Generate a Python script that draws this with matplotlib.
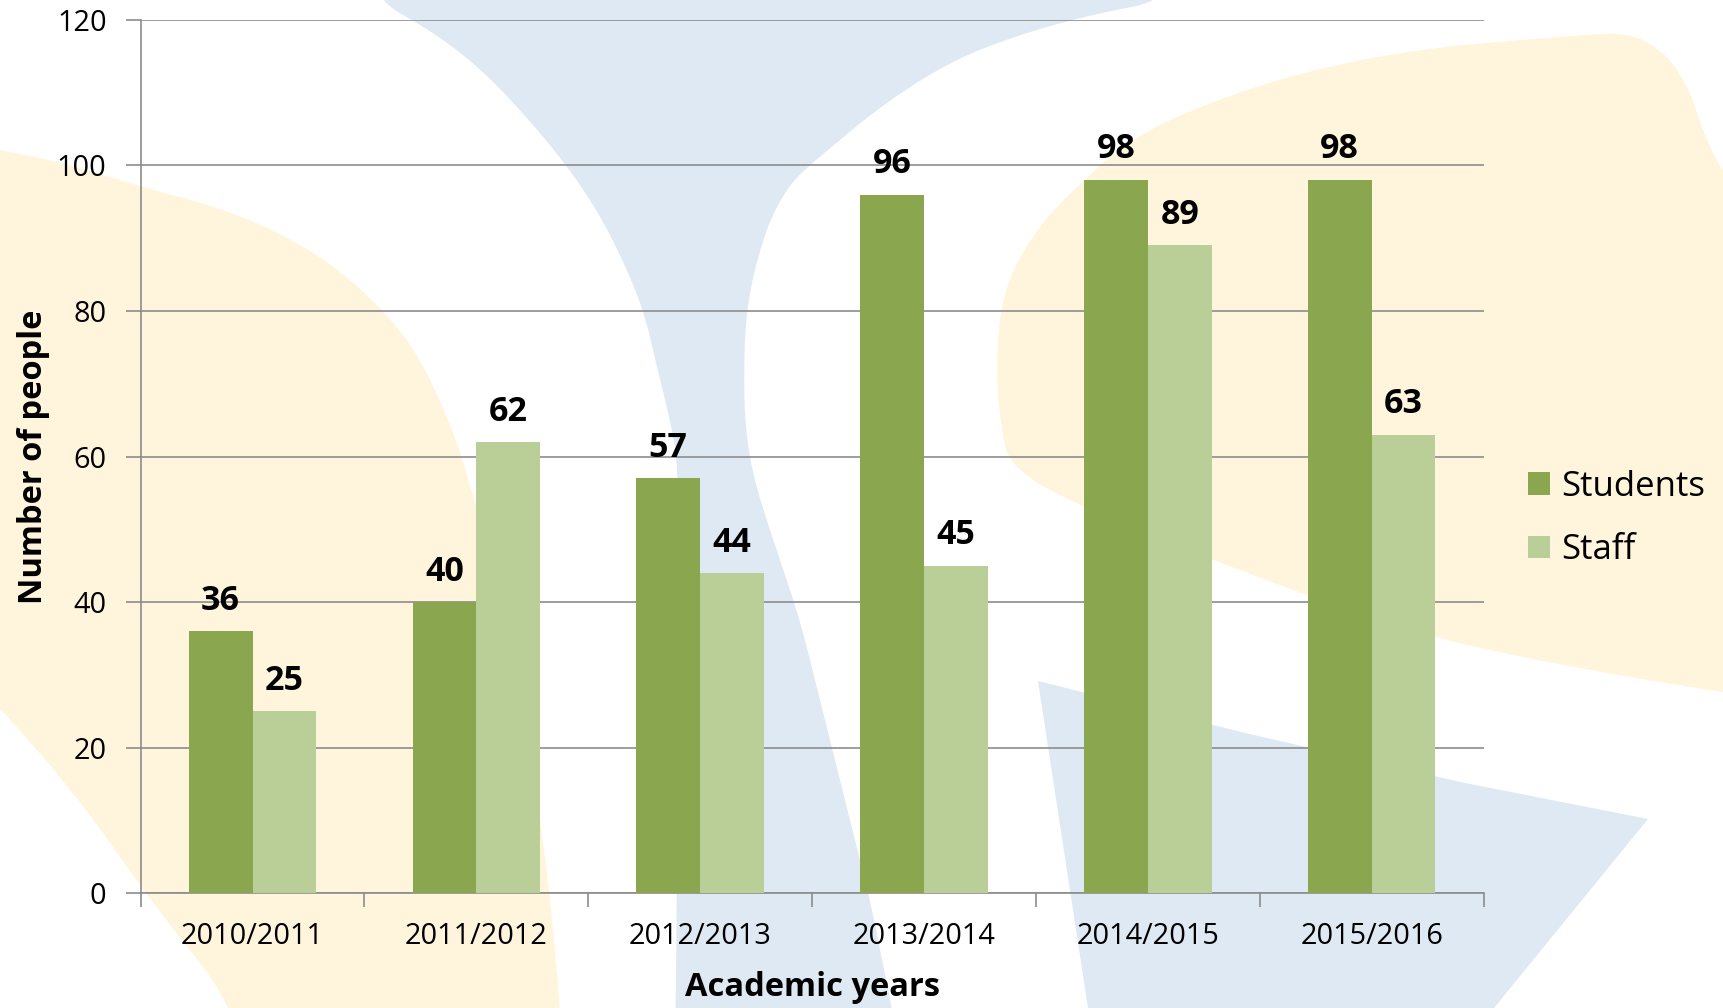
import matplotlib
matplotlib.use("Agg")
import matplotlib.pyplot as plt
from matplotlib.patches import Polygon
import numpy as np

plt.rcParams['font.family'] = ['Open Sans', 'DejaVu Sans']

years = ["2010/2011", "2011/2012", "2012/2013", "2013/2014", "2014/2015", "2015/2016"]
students = [36, 40, 57, 96, 98, 98]
staff = [25, 62, 44, 45, 89, 63]
series_names = ["Students", "Staff"]
yticks = [0, 20, 40, 60, 80, 100, 120]

C_STUD = "#8AA64E"
C_STAFF = "#BACF97"
C_GRID = "#8C8C8C"
C_YEL = "#FFF5DC"
C_BLUE = "#DFE9F3"

W, H = 1723, 1008
fig = plt.figure(figsize=(W / 100, H / 100), dpi=100)
fig.patch.set_facecolor("white")


def chaikin(pts, n=3):
    p = np.array(pts, dtype=float)
    for _ in range(n):
        q = []
        for i in range(len(p)):
            a, b = p[i], p[(i + 1) % len(p)]
            q.append(0.75 * a + 0.25 * b)
            q.append(0.25 * a + 0.75 * b)
        p = np.array(q)
    return p


def deco(pts, color, smooth=True):
    arr = chaikin(pts) if smooth else np.array(pts, dtype=float)
    arr[:, 0] = arr[:, 0] / W
    arr[:, 1] = 1 - arr[:, 1] / H
    p = Polygon(arr, closed=True, facecolor=color, edgecolor="none",
                transform=fig.transFigure, zorder=-5)
    fig.patches.append(p)


# decorative watermark shapes (background only)
deco([(-60, 140), (0, 150), (60, 162), (142, 187), (210, 205), (268, 227), (330, 262), (383, 310),
      (415, 350), (440, 400), (460, 450), (474, 500), (492, 550), (505, 600), (520, 680),
      (530, 750), (540, 820), (548, 880), (555, 950), (560, 1008), (562, 1060), (230, 1060),
      (236, 1008), (150, 900), (80, 800), (0, 707), (-60, 650)], C_YEL)
deco([(376, -40), (1168, -40), (1168, 0), (1090, 15), (1025, 33), (965, 55), (915, 83), (870, 115),
      (840, 140), (810, 165), (791, 183), (772, 215), (760, 250), (750, 290), (745, 330),
      (744, 380), (745, 420), (750, 460), (760, 500), (780, 560), (800, 620), (820, 700),
      (840, 780), (855, 840), (870, 900), (880, 950), (892, 1008), (900, 1060), (674, 1060),
      (676, 1008), (678, 700), (679, 467), (670, 420), (657, 367), (645, 315), (626, 267),
      (600, 215), (568, 167), (525, 115), (479, 67), (430, 30), (376, 0)], C_BLUE)
deco([(1038, 681), (1245, 733), (1465, 783), (1648, 819), (1494, 1008), (1460, 1060),
      (1094, 1060), (1088, 1008)], C_BLUE, smooth=False)
deco([(1669, 30), (1540, 38), (1410, 50), (1290, 75), (1190, 110), (1130, 140), (1080, 183),
      (1040, 225), (1014, 267), (1003, 300), (998, 333), (997, 380), (1000, 420), (1010, 470),
      (1100, 515), (1212, 560), (1410, 633), (1560, 665), (1707, 690), (1780, 700),
      (1780, 200), (1723, 190)], C_YEL)

ax = fig.add_axes([140.6 / W, 1 - 893.4 / H, (1483.5 - 140.6) / W, 873.6 / H])
ax.set_facecolor("none")

x = np.arange(len(years))
bw = 0.285
b1 = ax.bar(x - bw / 2, students, bw, color=C_STUD, label=series_names[0], zorder=3)
b2 = ax.bar(x + bw / 2, staff, bw, color=C_STAFF, label=series_names[1], zorder=3)

for bars, vals in ((b1, students), (b2, staff)):
    for rect, v in zip(bars, vals):
        ax.annotate(f"{v}", (rect.get_x() + rect.get_width() / 2, v),
                    xytext=(0, 15.5), textcoords="offset points",
                    ha="center", va="baseline", fontsize=24.5, fontweight="bold",
                    color="black", zorder=5)

ax.set_xlim(-0.5, len(years) - 0.5)
ax.set_ylim(0, 120)
ax.set_yticks(yticks)
ax.set_yticklabels([str(t) for t in yticks])
ax.yaxis.grid(True, color=C_GRID, linewidth=1.2, zorder=0)
ax.set_axisbelow(True)

# x ticks at category boundaries, labels at centers
ax.set_xticks(np.arange(-0.5, len(years), 1.0))
ax.set_xticklabels([])
ax.set_xticks(x, minor=True)
ax.set_xticklabels(years, minor=True)
ax.tick_params(axis="x", which="major", length=10, width=1.2, color=C_GRID, direction="out")
ax.tick_params(axis="x", which="minor", length=0, pad=20.5, labelsize=20.8)
ax.tick_params(axis="y", length=11, width=1.2, color=C_GRID, pad=13.5, labelsize=20.8)

for s in ("top", "right"):
    ax.spines[s].set_visible(False)
for s in ("left", "bottom"):
    ax.spines[s].set_color(C_GRID)
    ax.spines[s].set_linewidth(1.2)

ax.set_ylabel("Number of people", fontsize=23.5, fontweight="bold")
ax.yaxis.label.set_va("center")
ax.yaxis.set_label_coords((33 - 140.6) / 1343, 0.5)
ax.set_xlabel("Academic years", fontsize=23.5, fontweight="bold")
ax.xaxis.label.set_va("center")
ax.xaxis.set_label_coords(0.5, (893.4 - 987) / 873.6)

leg = ax.legend(loc="upper left", bbox_to_anchor=(1528 / W, 1 - 470 / H),
                bbox_transform=fig.transFigure, frameon=False, fontsize=25,
                handlelength=0.63, handleheight=0.63, handletextpad=0.32,
                labelspacing=0.84, borderpad=0, borderaxespad=0)

fig.savefig("out.png", dpi=100, facecolor="white")
